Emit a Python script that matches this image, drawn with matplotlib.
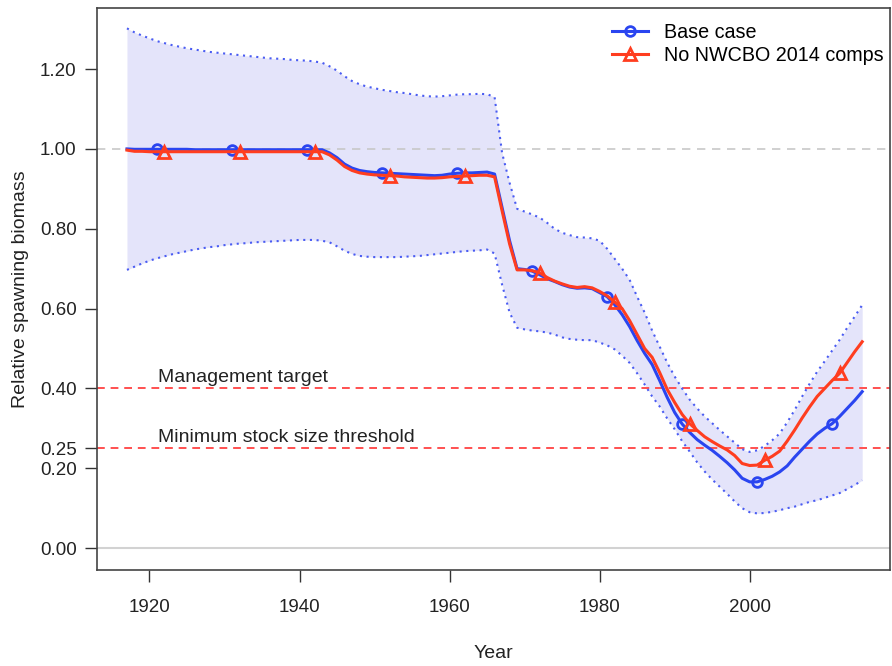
import numpy as np
import matplotlib
matplotlib.use("Agg")
import matplotlib.pyplot as plt

plt.rcParams['font.family'] = ['Liberation Sans', 'DejaVu Sans']

years = list(range(1917, 2016))

base_case = [
    1.000, 0.999, 0.999, 0.999, 0.999, 0.999, 0.999, 0.999, 0.999,            # 1917-1925
    0.998, 0.998, 0.998, 0.998, 0.998, 0.998, 0.998, 0.998, 0.998, 0.998,     # 1926-1935
    0.998, 0.998, 0.998, 0.998, 0.998, 0.998, 0.998, 0.998,                   # 1936-1943
    0.990, 0.978, 0.962, 0.952, 0.946, 0.943, 0.941,                          # 1944-1950
    0.940, 0.939, 0.938, 0.937, 0.936, 0.935, 0.934, 0.933, 0.934, 0.937,     # 1951-1960
    0.939, 0.940, 0.940, 0.941, 0.942, 0.937, 0.853, 0.770, 0.700, 0.698,     # 1961-1970
    0.694, 0.685, 0.675, 0.668, 0.660, 0.654, 0.651, 0.652, 0.650, 0.640,     # 1971-1980
    0.630, 0.610, 0.585, 0.555, 0.520, 0.488, 0.460, 0.420, 0.378, 0.340,     # 1981-1990
    0.311, 0.290, 0.272, 0.258, 0.245, 0.230, 0.214, 0.196, 0.175, 0.166,     # 1991-2000
    0.166, 0.172, 0.180, 0.191, 0.206, 0.228, 0.248, 0.268, 0.286, 0.300,     # 2001-2010
    0.312, 0.330, 0.350, 0.370, 0.392,                                        # 2011-2015
]

no_nwcbo = [
    0.997, 0.994, 0.994, 0.993, 0.993, 0.993, 0.993, 0.993, 0.993,            # 1917-1925
    0.993, 0.993, 0.993, 0.993, 0.993, 0.993, 0.993, 0.993, 0.993, 0.993,     # 1926-1935
    0.993, 0.993, 0.993, 0.993, 0.993, 0.993, 0.993, 0.993,                   # 1936-1943
    0.985, 0.972, 0.956, 0.946, 0.940, 0.937, 0.935,                          # 1944-1950
    0.934, 0.933, 0.932, 0.930, 0.929, 0.928, 0.927, 0.927, 0.928, 0.930,     # 1951-1960
    0.931, 0.932, 0.933, 0.934, 0.934, 0.930, 0.845, 0.762, 0.697, 0.697,     # 1961-1970
    0.695, 0.690, 0.678, 0.669, 0.662, 0.656, 0.653, 0.655, 0.652, 0.643,     # 1971-1980
    0.632, 0.617, 0.600, 0.570, 0.535, 0.500, 0.478, 0.440, 0.398, 0.365,     # 1981-1990
    0.335, 0.312, 0.295, 0.279, 0.267, 0.256, 0.246, 0.232, 0.212, 0.207,     # 1991-2000
    0.208, 0.220, 0.230, 0.243, 0.268, 0.296, 0.326, 0.354, 0.380, 0.400,     # 2001-2010
    0.420, 0.438, 0.465, 0.492, 0.517,                                        # 2011-2015
]

upper_ci = [
    1.302, 1.292, 1.284, 1.277, 1.270, 1.265, 1.260, 1.256, 1.252,            # 1917-1925
    1.249, 1.246, 1.243, 1.241, 1.239, 1.237, 1.235, 1.233, 1.231, 1.229,     # 1926-1935
    1.227, 1.226, 1.225, 1.223, 1.222, 1.221, 1.219, 1.216,                   # 1936-1943
    1.207, 1.196, 1.182, 1.170, 1.162, 1.156, 1.152,                          # 1944-1950
    1.148, 1.145, 1.142, 1.140, 1.137, 1.134, 1.132, 1.131, 1.132, 1.134,     # 1951-1960
    1.136, 1.137, 1.137, 1.138, 1.137, 1.130, 0.990, 0.915, 0.850, 0.843,     # 1961-1970
    0.836, 0.828, 0.815, 0.800, 0.790, 0.784, 0.779, 0.778, 0.776, 0.770,     # 1971-1980
    0.750, 0.725, 0.700, 0.672, 0.630, 0.590, 0.545, 0.505, 0.465, 0.430,     # 1981-1990
    0.400, 0.372, 0.350, 0.330, 0.313, 0.296, 0.280, 0.264, 0.248, 0.241,     # 1991-2000
    0.245, 0.256, 0.270, 0.287, 0.315, 0.346, 0.380, 0.412, 0.442, 0.468,     # 2001-2010
    0.495, 0.522, 0.552, 0.580, 0.609,                                        # 2011-2015
]

lower_ci = [
    0.697, 0.705, 0.713, 0.720, 0.726, 0.731, 0.736, 0.740, 0.744,            # 1917-1925
    0.748, 0.751, 0.754, 0.756, 0.759, 0.761, 0.763, 0.764, 0.766, 0.767,     # 1926-1935
    0.768, 0.769, 0.770, 0.771, 0.772, 0.772, 0.772, 0.770,                   # 1936-1943
    0.766, 0.756, 0.745, 0.737, 0.732, 0.730, 0.729,                          # 1944-1950
    0.729, 0.729, 0.729, 0.730, 0.731, 0.732, 0.734, 0.736, 0.738, 0.740,     # 1951-1960
    0.742, 0.744, 0.745, 0.746, 0.748, 0.738, 0.660, 0.590, 0.552, 0.548,     # 1961-1970
    0.545, 0.543, 0.540, 0.535, 0.528, 0.524, 0.522, 0.521, 0.521, 0.515,     # 1971-1980
    0.508, 0.498, 0.482, 0.464, 0.438, 0.410, 0.380, 0.355, 0.325, 0.298,     # 1981-1990
    0.268, 0.242, 0.215, 0.192, 0.172, 0.154, 0.136, 0.117, 0.100, 0.090,     # 1991-2000
    0.087, 0.088, 0.091, 0.095, 0.100, 0.104, 0.110, 0.116, 0.120, 0.126,     # 2001-2010
    0.132, 0.138, 0.148, 0.158, 0.170,                                        # 2011-2015
]

series_labels = ["Base case", "No NWCBO 2014 comps"]
ref_levels = [0.40, 0.25]
ref_labels = ["Management target", "Minimum stock size threshold"]
ytick_vals = [0.00, 0.20, 0.25, 0.40, 0.60, 0.80, 1.00, 1.20]
xtick_vals = [1920, 1940, 1960, 1980, 2000]

assert len(base_case) == len(years) == len(no_nwcbo) == len(upper_ci) == len(lower_ci)

fig = plt.figure(figsize=(8.92, 6.66), dpi=100)
ax = fig.add_axes([0.1087, 0.144, 0.889, 0.844])

blue = "#2a45f0"
red = "#ff3d1f"

ax.fill_between(years, lower_ci, upper_ci, color="#e4e4fa", lw=0, zorder=1)
ax.plot(years, upper_ci, color="#4a5cf2", ls=(0, (1, 2.2)), lw=1.5, zorder=2)
ax.plot(years, lower_ci, color="#4a5cf2", ls=(0, (1, 2.2)), lw=1.5, zorder=2)

ax.axhline(1.0, color="#c8c8c8", ls=(0, (5, 4)), lw=1.2, zorder=1.5)
ax.axhline(0.0, color="#d2d2d2", ls="-", lw=1.5, zorder=1.5)
for lvl in ref_levels:
    ax.axhline(lvl, color="#ff5050", ls=(0, (4, 3)), lw=1.4, zorder=1.5)

ax.plot(years, base_case, color=blue, lw=2.2, marker="o", markersize=7,
        markerfacecolor="none", markeredgewidth=2, markevery=(4, 10),
        label=series_labels[0], zorder=4)
ax.plot(years, no_nwcbo, color=red, lw=2.2, marker="^", markersize=9,
        markerfacecolor="none", markeredgewidth=2, markevery=(5, 10),
        label=series_labels[1], zorder=5)

for lvl, lab in zip(ref_levels, ref_labels):
    ax.text(1921.1, lvl + 0.016, lab, fontsize=14, color="#222222",
            va="baseline", ha="left")

ax.set_xlim(1913.0, 2018.7)
ax.set_ylim(-0.055, 1.353)
ax.set_xticks(xtick_vals)
ax.set_xticklabels([str(v) for v in xtick_vals])
ax.set_yticks(ytick_vals)
ax.set_yticklabels([f"{v:.2f}" for v in ytick_vals])
ax.tick_params(axis="both", direction="out", length=8.6, width=1, colors="#333333",
               labelsize=13.5, labelcolor="#222222")
ax.tick_params(axis="x", pad=12)
ax.tick_params(axis="y", pad=6)
for sp in ax.spines.values():
    sp.set_color("#444444")
    sp.set_linewidth(1.2)

ax.set_xlabel("Year", fontsize=14, color="#222222", labelpad=21)
ax.set_ylabel("Relative spawning biomass", fontsize=14, color="#222222", labelpad=8)

leg = ax.legend(loc="upper right", bbox_to_anchor=(1.0, 0.984), frameon=False,
                fontsize=14.2, handlelength=1.8, handletextpad=0.85,
                borderaxespad=0.0, borderpad=0.3, labelspacing=0.22)

fig.savefig("out.png", dpi=100)
